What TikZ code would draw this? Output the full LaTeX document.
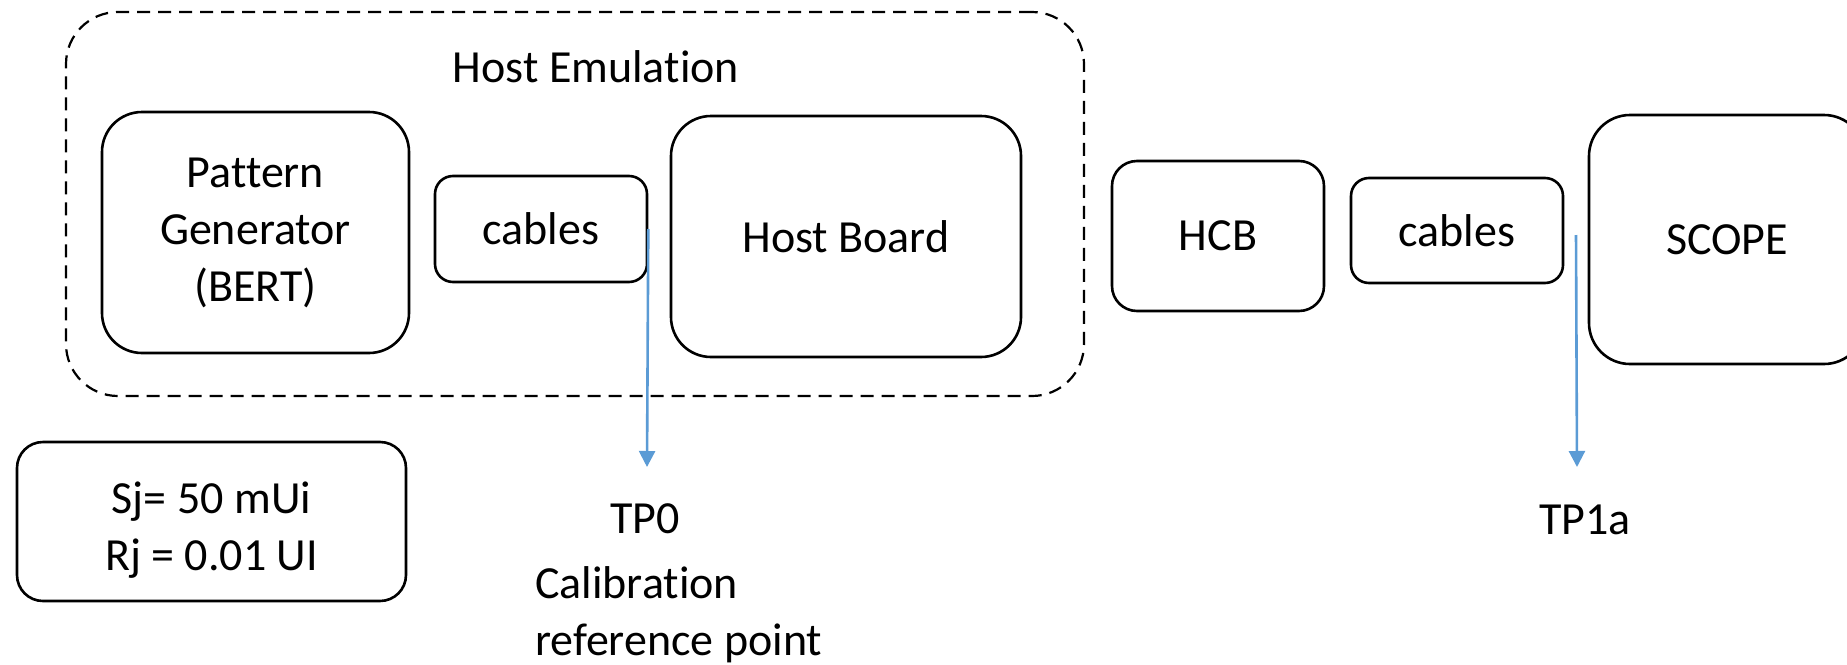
\documentclass[tikz,border=0pt]{standalone}
\usepackage{fontspec}
\setmainfont[Ligatures=NoCommon]{Carlito}
\usetikzlibrary{arrows.meta,calc}
\definecolor{tpblue}{RGB}{91,155,213}
\newcommand\diagfont{\fontsize{46pt}{57pt}\selectfont}
\begin{document}
\begin{tikzpicture}[x=1pt,y=-1pt,
  box/.style={draw=black,line width=2.6pt,rounded corners=#1,inner sep=0pt,align=center,font=\diagfont},
  group/.style={draw=black,line width=2.2pt,dash pattern=on 13pt off 8pt,rounded corners=52pt,inner sep=0pt},
  lbl/.style={font=\diagfont,inner sep=0pt},
  tp/.style={draw=tpblue,line width=2.6pt,-{Triangle[length=16pt,width=16pt]}}]
\useasboundingbox (0,0) rectangle (1847,664);
\clip (0,0) rectangle (1847,664);
% container
\node[group,minimum width=1018pt,minimum height=384pt] (host) at (575,204) {};
\node[lbl,anchor=base] (hostlbl) at (596,82) {Host Emulation};
% blocks
\node[box=40pt,minimum width=307pt,minimum height=241pt] (pg) at (255.5,232.5) {Pattern\\Generator\\(BERT)};
\node[box=18pt,minimum width=212pt,minimum height=106pt] (c1) at (541,229) {cables};
\node[box=40pt,minimum width=350pt,minimum height=241pt] (hb) at (846,236.5) {Host Board};
\node[box=25pt,minimum width=212pt,minimum height=150pt] (hcb) at (1218,236) {HCB};
\node[box=18pt,minimum width=212pt,minimum height=105pt] (c2) at (1457,230.5) {cables};
\node[box=41pt,minimum width=276pt,minimum height=249pt] (scope) at (1727,239.5) {SCOPE};
\node[box=26pt,minimum width=389pt,minimum height=159pt] (jit) at (211.5,521.5) {\rule{0pt}{48pt}Sj= 50 mUi\\Rj = 0.01 UI};
% test points
\coordinate (tp0end) at (647,467);
\draw[tp] (c1.east) -- (tp0end);
\coordinate (tp1start) at ($(c2.east)!0.5!(scope.west)$);
\coordinate (tp1end) at (1577,467);
\draw[tp] (tp1start) -- (tp1end);
\node[lbl,anchor=base] (tp0) at (645,533) {TP0};
\node[lbl,anchor=base west,align=left] (calib) at (535,655) {Calibration\\reference point};
\node[lbl,anchor=base] (tp1a) at (1585,534) {TP1a};
\end{tikzpicture}
\end{document}
